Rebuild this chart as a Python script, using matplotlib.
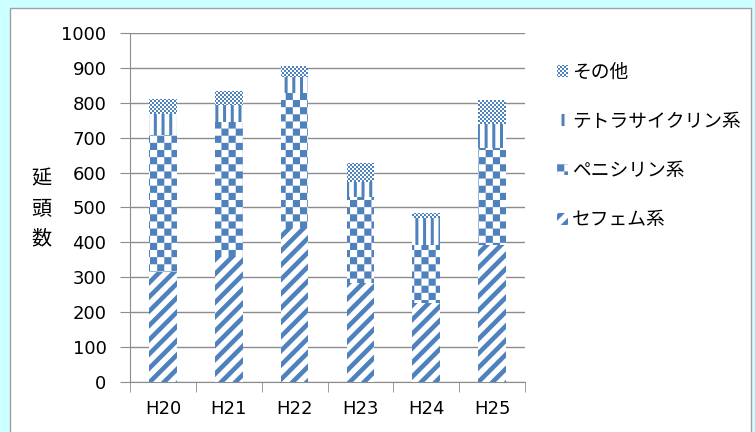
import warnings
import numpy as np
import matplotlib
matplotlib.use("Agg")
import matplotlib.pyplot as plt
import matplotlib.hatch as mhatch
from matplotlib.path import Path
from matplotlib.patches import Rectangle

warnings.filterwarnings("ignore")

# data
years = ["H20", "H21", "H22", "H23", "H24", "H25"]
cephem = [315, 358, 440, 283, 225, 393]
penicillin = [393, 387, 388, 247, 168, 277]
tetra = [60, 49, 46, 43, 77, 69]
other = [43, 40, 31, 54, 14, 69]
series_names = ["セフェム系", "ペニシリン系", "テトラサイクリン系", "その他"]
yticks = [0, 100, 200, 300, 400, 500, 600, 700, 800, 900, 1000]

BLUE = "#4F81BD"
GRID = "#8C8C8C"


# filled hatch patterns (squares / stripes) registered as extra hatch chars
class FilledHatch(mhatch.HatchPatternBase):
    char = None

    def __init__(self, hatch, density):
        self.polys = self.make_polys() if self.char in hatch else []
        self.num_vertices = 5 * len(self.polys)

    def set_vertices_and_codes(self, vertices, codes):
        for k, poly in enumerate(self.polys):
            vertices[5 * k:5 * k + 4] = poly
            vertices[5 * k + 4] = poly[0]
            codes[5 * k] = Path.MOVETO
            codes[5 * k + 1:5 * k + 4] = Path.LINETO
            codes[5 * k + 4] = Path.CLOSEPOLY


def checker_polys(n):
    s = 1.0 / n
    out = []
    for i in range(n):
        for j in range(n):
            if (i + j) % 2 == 0:
                out.append([(i * s, j * s), ((i + 1) * s, j * s),
                            ((i + 1) * s, (j + 1) * s), (i * s, (j + 1) * s)])
    return out


class Checker(FilledHatch):
    char = "c"

    def make_polys(self):
        return checker_polys(14)


class FineDots(FilledHatch):
    char = "f"

    def make_polys(self):
        return checker_polys(50)


class Diagonal(FilledHatch):
    char = "d"

    def make_polys(self):
        n, w = 7, 0.065
        return [[(k / n, 0), (k / n + w, 0), (k / n + w + 1, 1), (k / n + 1, 1)]
                for k in range(-n - 1, n + 1)]


class Vertical(FilledHatch):
    char = "v"

    def make_polys(self):
        n, w = 13, 0.03
        return [[(k / n, 0), (k / n + w, 0), (k / n + w, 1), (k / n, 1)]
                for k in range(n)]


mhatch._hatch_types.extend([Checker, FineDots, Diagonal, Vertical])

plt.rcParams["font.family"] = ["DejaVu Sans", "Noto Sans CJK JP"]
plt.rcParams["hatch.linewidth"] = 0.01

fig = plt.figure(figsize=(7.55, 4.32), dpi=100)
fig.patch.set_facecolor("#CCFFFF")
fig.patches.append(Rectangle((10 / 755, -0.01), 741 / 755, 1 - 8 / 432 + 0.01,
                             transform=fig.transFigure, facecolor="white",
                             edgecolor="#A0A0A0", linewidth=1, zorder=-5))

ax = fig.add_axes([130 / 755, 50 / 432, 395 / 755, 349 / 432])
ax.set_facecolor("none")

x = np.arange(len(years))
hatches = ["d", "c", "v", "f"]
bottom = np.zeros(len(years))
bars = []
for vals, name, h in zip([cephem, penicillin, tetra, other], series_names, hatches):
    b = ax.bar(x, vals, width=0.42, bottom=bottom, facecolor="white",
               edgecolor=BLUE, linewidth=0, hatch=h, label=name, zorder=3)
    bars.append(b)
    bottom = bottom + np.array(vals)

ax.set_xlim(-0.5, len(years) - 0.5)
ax.set_ylim(0, 1000)
ax.set_yticks(yticks)
ax.set_xticks(x)
ax.set_xticklabels(years, fontsize=13)
ax.set_xticks(np.arange(len(years) + 1) - 0.5, minor=True)
ax.tick_params(axis="x", which="major", length=0, pad=13)
ax.tick_params(axis="x", which="minor", length=7, color=GRID, direction="out")
ax.tick_params(axis="y", length=7, color=GRID, labelsize=13, pad=10)
ax.yaxis.grid(True, color=GRID, linewidth=1)
ax.set_axisbelow(True)
for side in ["top", "right"]:
    ax.spines[side].set_visible(False)
for side in ["left", "bottom"]:
    ax.spines[side].set_color(GRID)

fig.text(41 / 755, 1 - 209 / 432, "延\n頭\n数", fontsize=14.5, ha="center",
         va="center", linespacing=1.55, family=["Noto Sans CJK JP"])

handles = [b.patches[0] for b in bars][::-1]
leg = fig.legend(handles, series_names[::-1], loc="upper left",
                 bbox_to_anchor=(540 / 755, 1 - 45 / 432), frameon=False,
                 prop={"family": ["Noto Sans CJK JP"], "size": 13.5},
                 handlelength=0.6, handleheight=0.6, handletextpad=0.2,
                 labelspacing=1.5)

fig.savefig("out.png", dpi=100, facecolor=fig.get_facecolor())
